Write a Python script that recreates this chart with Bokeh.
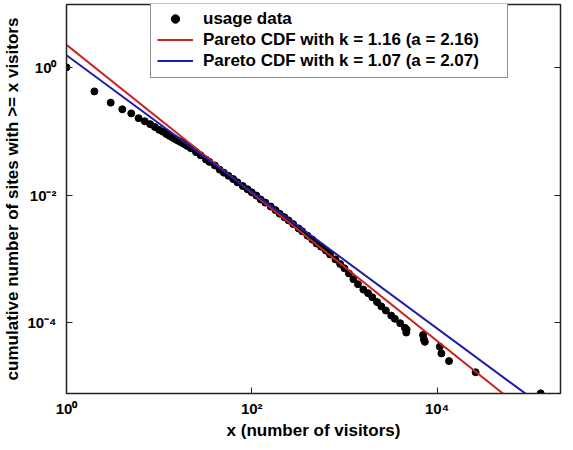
import math
from bokeh.plotting import figure
from bokeh.models import Range1d, FixedTicker, LogAxis, Legend, LegendItem
from bokeh.embed import file_html
from bokeh.resources import INLINE

# ---- data ----
visitors = [1, 2, 3, 4, 5, 6, 7, 8, 9, 10, 11, 12, 13, 14, 15, 16, 17, 18, 19, 20,
            22, 25, 28, 32, 35, 40, 45, 50, 56, 63, 70, 80, 90, 100, 112, 125, 140,
            160, 180, 200, 225, 250, 280, 320, 350, 400, 450, 500, 560, 630, 700,
            800, 900, 1000, 1120, 1250, 1400, 1600, 1800, 2000, 2250, 2500, 2800,
            3200, 3500, 4000, 4500, 4700, 4650, 7060, 7200, 7380, 10700, 11140,
            13460, 26060, 131200]
site_fraction = [1.0, 0.42, 0.28, 0.22, 0.19, 0.16, 0.143, 0.129, 0.116, 0.105,
                 0.098, 0.090, 0.084, 0.079, 0.075, 0.071, 0.068, 0.065, 0.062, 0.059,
                 0.054, 0.047, 0.042, 0.036, 0.033, 0.029, 0.025, 0.0224, 0.020,
                 0.0178, 0.0158, 0.0138, 0.0123, 0.0110, 0.0098, 0.0085, 0.0076,
                 0.0066, 0.0058, 0.0051, 0.0045, 0.0040, 0.0035, 0.0030, 0.0027,
                 0.0023, 0.0020, 0.00174, 0.00155, 0.00135, 0.00117, 0.00098,
                 0.00083, 0.00071, 0.00059, 0.00048, 0.00040, 0.00033, 0.00029,
                 0.00025, 0.00021, 0.00018, 0.000155, 0.000129, 0.000115, 0.000098,
                 0.000083, 0.000078, 0.000070, 0.000064, 0.000055, 0.000050,
                 0.000042, 0.000033, 0.000025, 0.0000167, 0.0000078]

fit_labels = ["Pareto CDF with k = 1.16 (a = 2.16)",
              "Pareto CDF with k = 1.07 (a = 2.07)"]
fit_k = [1.16, 1.07]
fit_c = [2.26, 1.55]
fit_colors = ["#cc2222", "#1c1ca6"]

x_ticks = [1, 100, 10000]
x_tick_labels = ["10\u2070", "10\u00b2", "10\u2074"]
y_ticks = [0.0001, 0.01, 1]
y_tick_labels = ["10\u207b\u2074", "10\u207b\u00b2", "10\u2070"]

x_title = "x (number of visitors)"
y_title = "cumulative number of sites with >= x visitors"

x_lo, x_hi = 1, 2.15e5
y_lo, y_hi = 10 ** -5.11, 10 ** 0.985

FONT = "Liberation Sans"

p = figure(width=565, height=442, x_axis_type="log", y_axis_type="log",
           x_range=Range1d(x_lo, x_hi), y_range=Range1d(y_lo, y_hi),
           output_backend="svg", toolbar_location=None,
           min_border_left=64, min_border_right=5, min_border_top=4,
           min_border_bottom=48)
p.grid.visible = False
p.background_fill_color = "white"
p.border_fill_color = "white"
p.outline_line_color = "#222222"
p.outline_line_width = 1.5

for ax, ticks, labs in ((p.xaxis[0], x_ticks, x_tick_labels),
                        (p.yaxis[0], y_ticks, y_tick_labels)):
    ax.ticker = FixedTicker(ticks=ticks, minor_ticks=[])
    ax.major_label_overrides = {t: l for t, l in zip(ticks, labs)}
    ax.major_tick_in = 6
    ax.major_tick_out = 0
    ax.major_tick_line_color = "#222222"
    ax.axis_line_color = "#222222"
    ax.major_label_text_font = FONT
    ax.major_label_text_font_size = "15px"
    ax.major_label_text_font_style = "bold"
    ax.major_label_text_color = "black"
    ax.axis_label_text_font = FONT
    ax.axis_label_text_font_size = "17px"
    ax.axis_label_text_font_style = "bold"
    ax.axis_label_text_color = "black"

p.xaxis.major_label_standoff = 6
p.xaxis.axis_label = x_title
p.xaxis.axis_label_standoff = 1
p.yaxis.major_label_standoff = 10
p.yaxis.axis_label = y_title
p.yaxis.axis_label_standoff = 2

right_axis = LogAxis(ticker=FixedTicker(ticks=y_ticks, minor_ticks=[]),
                     major_tick_in=6, major_tick_out=0,
                     major_tick_line_color="#222222", axis_line_color="#222222",
                     major_label_text_font_size="1px", major_label_text_alpha=0.0,
                     major_label_standoff=0)
p.add_layout(right_axis, "right")

dots = p.scatter(visitors, site_fraction, size=7, color="black", marker="circle")

fit_renderers = []
for k, c, col in zip(fit_k, fit_c, fit_colors):
    xs = [x_lo, x_hi]
    ys = [c * xv ** (-k) for xv in xs]
    fit_renderers.append(p.line(xs, ys, line_color=col, line_width=2))

legend = Legend(items=[LegendItem(label="usage data", renderers=[dots])] +
                [LegendItem(label=lab, renderers=[r]) for lab, r in zip(fit_labels, fit_renderers)],
                location=(84, 390 - 75), padding=6, spacing=0, label_height=21,
                glyph_height=21, glyph_width=36, label_standoff=10, label_width=298,
                label_text_font=FONT, label_text_font_size="17px",
                label_text_font_style="bold", label_text_color="black",
                border_line_color="#222222", border_line_width=1.5,
                background_fill_color="white", background_fill_alpha=1.0, margin=0)
p.add_layout(legend)

open("out.html", "w").write(file_html(p, INLINE))
